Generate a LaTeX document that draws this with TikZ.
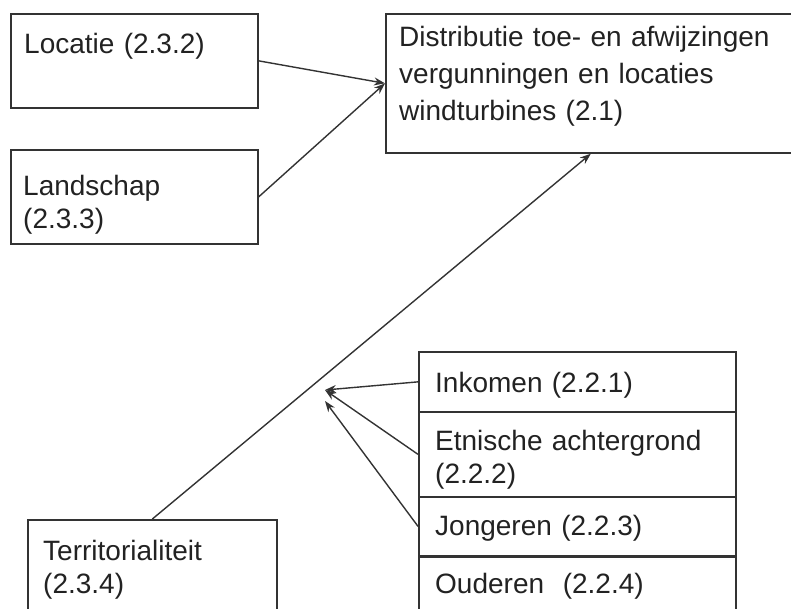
\documentclass[tikz,border=0pt]{standalone}
\usepackage{fontspec}
\setmainfont{Liberation Sans}
\usetikzlibrary{arrows.meta}
\definecolor{edgegray}{HTML}{333333}
\definecolor{textgray}{HTML}{222222}

\begin{document}
\begin{tikzpicture}[x=1pt,y=-1pt,
  box/.style={draw=edgegray, line width=1.7pt, anchor=north west, inner sep=0pt, fill=none},
  lbl/.style={anchor=base west, inner sep=0pt, text=textgray, text width=#1, align=left},
  lbl/.default=380pt,
  txt/.style={font=\fontsize{28pt}{#1}\selectfont},
  txt/.default=33pt,
  arr/.style={draw=edgegray, line width=1.4pt, -{Stealth[length=11pt,width=8pt]}}]
  \useasboundingbox (0,0) rectangle (791,608);

  % boxes
  \node[box, minimum width=247pt, minimum height=94pt]  (loc) at (10,13)  {};
  \node[box, minimum width=247pt, minimum height=94pt]  (lan) at (10,149) {};
  \node[box, minimum width=410pt, minimum height=139pt] (dis) at (385,13) {};
  \node[box, minimum width=249pt, minimum height=120pt] (ter) at (27,519) {};
  \node[box, minimum width=317pt, minimum height=60pt]  (ink) at (418,351) {};
  \node[box, minimum width=317pt, minimum height=85pt]  (etn) at (418,411) {};
  \node[box, minimum width=317pt, minimum height=59pt]  (jon) at (418,496) {};
  \node[box, minimum width=317pt, minimum height=80pt]  (oud) at (418,556.5) {};

  % texts
  \node[lbl, txt] (loct) at (24,53) {Locatie (2.3.2)};
  \node[lbl=400pt, txt=37pt] (dist) at (399,46)
    {Distributie toe- en afwijzingen\\vergunningen en locaties\\windturbines (2.1)};
  \node[lbl, txt] (lant) at (23,195) {Landschap\\(2.3.3)};
  \node[lbl, txt] (tert) at (43,560) {Territorialiteit\\(2.3.4)};
  \node[lbl, txt] (inkt) at (435,392) {Inkomen (2.2.1)};
  \node[lbl, txt] (etnt) at (435,450) {Etnische achtergrond\\(2.2.2)};
  \node[lbl, txt] (jont) at (435,535) {Jongeren (2.2.3)};
  \node[lbl, txt] (oudt) at (435,593) {Ouderen\ \ (2.2.4)};

  % free arrow ends
  \coordinate (t1) at (325,390);
  \coordinate (t2) at (325,401);

  % connectors
  \draw[arr] (loc.east) -- (dis.west);
  \draw[arr] (lan.east) -- (dis.west);
  \draw[arr] (ter.north) -- (dis.south);
  \draw[arr] (ink.west) -- (t1);
  \draw[arr] (etn.west) -- (t1);
  \draw[arr] (jon.west) -- (t2);
\end{tikzpicture}
\end{document}
